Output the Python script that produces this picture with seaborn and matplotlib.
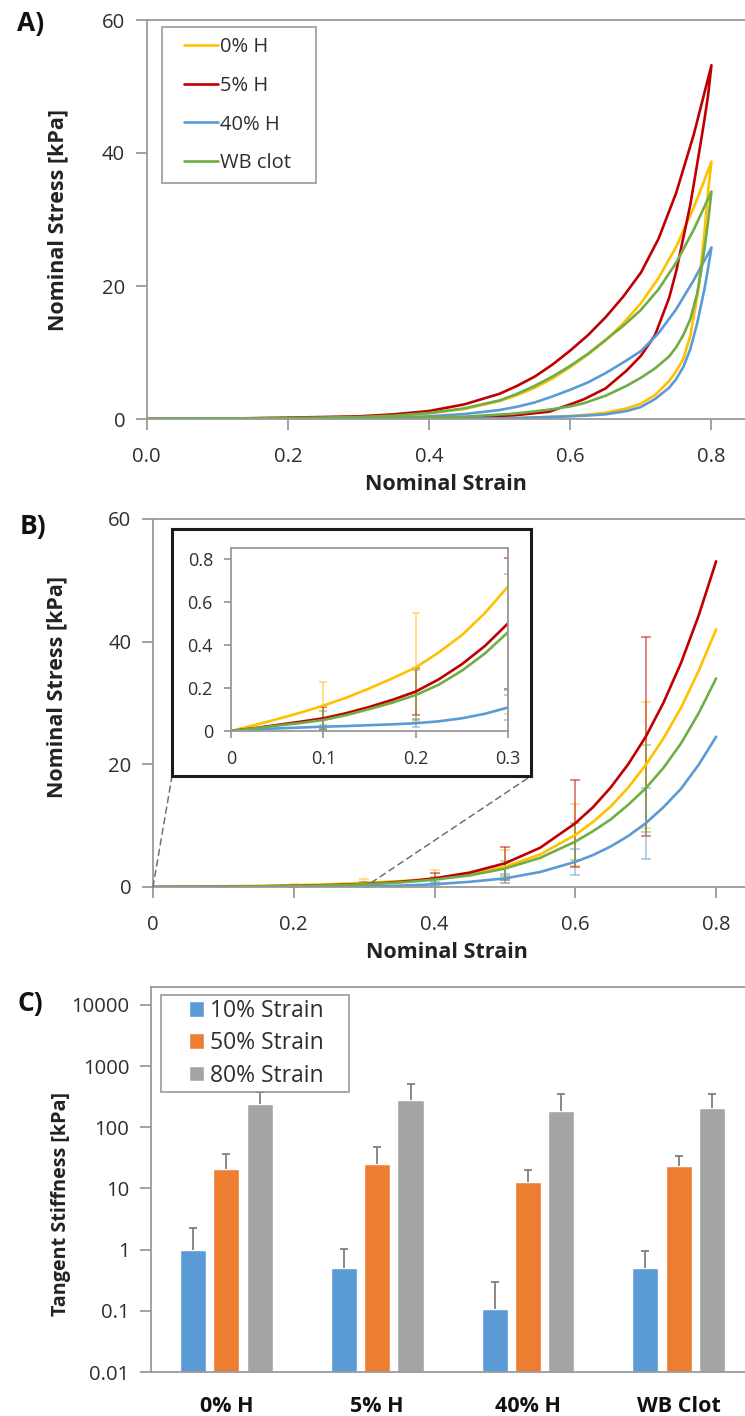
import numpy as np
import pandas as pd
import matplotlib
matplotlib.use("Agg")
import matplotlib.pyplot as plt
import seaborn as sns
from matplotlib.legend_handler import HandlerLine2D, HandlerPatch
from matplotlib.patches import ConnectionPatch

# ------------------------------------------------------------------ data
series_names = ["0% H", "5% H", "40% H", "WB clot"]
series_colors = ["#FFC000", "#C00000", "#5B9BD5", "#70AD47"]

# Panel A : representative loading / unloading loops
a_load_strain = [0, 0.1, 0.2, 0.3, 0.35, 0.4, 0.45, 0.5, 0.525, 0.55, 0.575, 0.6, 0.625,
                 0.65, 0.675, 0.7, 0.725, 0.75, 0.775, 0.8]
a_load_0H  = [0, 0.04, 0.15, 0.3, 0.45, 0.85, 1.5, 2.7, 3.6, 4.7, 6.1, 7.8, 9.7,
              11.8, 14.4, 17.4, 21.2, 25.9, 31.8, 38.7]
a_load_5H  = [0, 0.05, 0.2, 0.4, 0.7, 1.2, 2.2, 3.8, 5.0, 6.4, 8.2, 10.3, 12.6,
              15.3, 18.4, 22.0, 27.1, 34.0, 42.8, 53.2]
a_load_40H = [0, 0.02, 0.05, 0.1, 0.18, 0.4, 0.75, 1.35, 1.85, 2.5, 3.4, 4.4, 5.5,
              6.9, 8.5, 10.2, 12.9, 16.5, 20.9, 25.8]
a_load_WB  = [0, 0.04, 0.15, 0.3, 0.5, 0.9, 1.6, 2.8, 3.8, 5.0, 6.4, 8.0, 9.8,
              11.9, 14.0, 16.4, 19.5, 23.5, 28.5, 34.2]

a_unload_strain = [0.8, 0.795, 0.79, 0.785, 0.78, 0.77, 0.76, 0.75, 0.74, 0.72, 0.70, 0.68, 0.65,
                   0.62, 0.60, 0.57, 0.52, 0.45, 0.35, 0.2, 0.0]
a_unload_0H  = [38.7, 34.0, 28.0, 23.0, 18.5, 12.5, 9.0, 7.2, 5.7, 3.6, 2.3, 1.6, 0.95,
                0.6, 0.45, 0.3, 0.15, 0.07, 0.03, 0.01, 0.0]
a_unload_5H  = [53.2, 48.5, 45.0, 41.7, 38.5, 32.2, 27.2, 22.2, 18.2, 12.6, 9.5, 7.3, 4.6,
                3.0, 2.2, 1.1, 0.55, 0.25, 0.1, 0.03, 0.0]
a_unload_40H = [25.8, 22.5, 19.5, 17.0, 14.5, 10.5, 7.8, 6.0, 4.7, 3.0, 1.8, 1.2, 0.7,
                0.5, 0.4, 0.3, 0.12, 0.06, 0.03, 0.01, 0.0]
a_unload_WB  = [34.2, 29.5, 25.5, 22.0, 19.0, 15.0, 12.6, 10.8, 9.4, 7.6, 6.2, 5.0, 3.5,
                2.4, 1.9, 1.4, 0.8, 0.35, 0.12, 0.04, 0.0]

# Panel B : mean loading curves with SD error bars
b_strain = [0, 0.025, 0.05, 0.075, 0.1, 0.125, 0.15, 0.175, 0.2, 0.225, 0.25, 0.275, 0.3,
            0.325, 0.35, 0.375, 0.4, 0.45, 0.5, 0.55, 0.6, 0.625, 0.65, 0.675, 0.7,
            0.725, 0.75, 0.775, 0.8]
b_mean_0H  = [0, 0.027, 0.055, 0.085, 0.118, 0.155, 0.198, 0.245, 0.295, 0.365, 0.445, 0.548, 0.671,
              0.8, 0.95, 1.13, 1.35, 2.1, 3.3, 5.3, 8.5, 10.6, 13.1, 16.2, 19.9,
              24.2, 29.2, 35.2, 42.0]
b_mean_5H  = [0, 0.013, 0.028, 0.043, 0.059, 0.083, 0.112, 0.145, 0.183, 0.24, 0.31, 0.395, 0.50,
              0.65, 0.84, 1.09, 1.41, 2.35, 3.86, 6.4, 10.4, 13.0, 16.2, 20.0, 24.5,
              30.0, 36.5, 44.2, 53.1]
b_mean_40H = [0, 0.007, 0.012, 0.016, 0.020, 0.023, 0.027, 0.031, 0.036, 0.045, 0.059, 0.080, 0.109,
              0.155, 0.22, 0.32, 0.45, 0.85, 1.4, 2.45, 4.1, 5.2, 6.6, 8.3, 10.4,
              13.0, 16.0, 19.9, 24.5]
b_mean_WB  = [0, 0.012, 0.025, 0.037, 0.051, 0.074, 0.102, 0.132, 0.167, 0.215, 0.28, 0.36, 0.459,
              0.58, 0.74, 0.95, 1.2, 1.9, 3.0, 4.75, 7.4, 9.1, 11.0, 13.4, 16.1,
              19.4, 23.4, 28.3, 34.0]

b_err_strain = [0.1, 0.2, 0.3, 0.4, 0.5, 0.6, 0.7]
b_sd_0H  = [0.108, 0.252, 0.59, 1.47, 2.7, 5.0, 10.2]
b_sd_5H  = [0.054, 0.11, 0.305, 0.9, 2.7, 7.1, 16.2]
b_sd_40H = [0.01, 0.019, 0.058, 0.3, 0.7, 2.1, 5.8]
b_sd_WB  = [0.042, 0.116, 0.27, 0.5, 1.2, 3.0, 7.1]

# Panel C : tangent stiffness
c_groups = ["0% H", "5% H", "40% H", "WB Clot"]
c_levels = ["10% Strain", "50% Strain", "80% Strain"]
c_colors = ["#5B9BD5", "#ED7D31", "#A5A5A5"]
c_mean_10 = [0.97, 0.51, 0.106, 0.51]
c_mean_50 = [21.0, 25.0, 12.9, 23.2]
c_mean_80 = [242, 281, 188, 208]
c_err_10 = [1.28, 0.51, 0.19, 0.43]
c_err_50 = [16.0, 22.0, 6.8, 10.6]
c_err_80 = [143, 238, 168, 148]

# ------------------------------------------------------------------ style
sns.set_theme(style="white")
plt.rcParams["font.family"] = ["Open Sans", "DejaVu Sans"]
GRAY = "#9a9a9a"
TXT = "#2e2e2e"
TICK_FS = 14.6

W, H = 745, 1416
fig = plt.figure(figsize=(W / 100, H / 100), dpi=100)


def add_ax(l, t, r, b, **kw):
    return fig.add_axes([l / W, 1 - b / H, (r - l) / W, (b - t) / H], **kw)


def style_ax(ax, size=TICK_FS, xpad=12.5, ypad=7.5, length=8):
    for s in ax.spines.values():
        s.set_color(GRAY)
        s.set_linewidth(1.3)
    ax.tick_params(axis="both", which="both", direction="out", length=length, width=1.3,
                   color=GRAY, labelsize=size, labelcolor=TXT, bottom=True, left=True)
    ax.tick_params(axis="x", pad=xpad)
    ax.tick_params(axis="y", pad=ypad)


def label_at(ax, which, text, px, py, size=15.5):
    if which == "x":
        ax.set_xlabel(text, fontsize=size, fontweight="bold", color="#222222")
        ax.xaxis.set_label_coords(px / W, 1 - py / H, transform=fig.transFigure)
        ax.xaxis.label.set_verticalalignment("center")
    else:
        ax.set_ylabel(text, fontsize=size, fontweight="bold", color="#222222")
        ax.yaxis.set_label_coords(px / W, 1 - py / H, transform=fig.transFigure)
        ax.yaxis.label.set_verticalalignment("center")


def panel_letter(text, px, py):
    fig.text(px / W, 1 - py / H, text, ha="center", va="center", fontsize=19,
             fontweight="bold", color="#111111")


palette = dict(zip(series_names, series_colors))

# ------------------------------------------------------------------ Panel A
a_load = [a_load_0H, a_load_5H, a_load_40H, a_load_WB]
a_unload = [a_unload_0H, a_unload_5H, a_unload_40H, a_unload_WB]
rows = []
for name, ld, ul in zip(series_names, a_load, a_unload):
    for s, v in zip(a_load_strain, ld):
        rows.append((name, s, v))
    for s, v in zip(a_unload_strain, ul):
        rows.append((name, s, v))
dfA = pd.DataFrame(rows, columns=["series", "strain", "stress"])

axA = add_ax(146.7, 20, 745, 419)
sns.lineplot(data=dfA, x="strain", y="stress", hue="series", hue_order=series_names,
             palette=palette, sort=False, estimator=None, lw=1.9, ax=axA)
axA.set_xlim(0, 0.8475)
axA.set_ylim(0, 60)
axA.set_xticks([0, 0.2, 0.4, 0.6, 0.8])
axA.set_xticklabels(["0.0", "0.2", "0.4", "0.6", "0.8"])
axA.set_yticks([0, 20, 40, 60])
style_ax(axA)
axA.spines["right"].set_visible(False)
label_at(axA, "x", "Nominal Strain", 446, 485)
label_at(axA, "y", "Nominal Stress [kPa]", 58, 220)

hA, lA = axA.get_legend_handles_labels()
legA = axA.legend(hA, lA, loc="upper left", mode="expand",
                  bbox_to_anchor=(162 / W, 1 - 182 / H, 154 / W, 155 / H),
                  bbox_transform=fig.transFigure, borderaxespad=0, frameon=True,
                  fancybox=False, edgecolor="#8a8a8a", fontsize=14.5, handlelength=2.3,
                  handletextpad=0.1, borderpad=0.5, labelspacing=0.93,
                  handler_map={h: HandlerLine2D(xpad=0.6) for h in hA})
legA.get_frame().set_linewidth(1.3)
for t in legA.get_texts():
    t.set_color(TXT)
panel_letter("A)", 31, 24)

# ------------------------------------------------------------------ Panel B
b_means = [b_mean_0H, b_mean_5H, b_mean_40H, b_mean_WB]
b_sds = [b_sd_0H, b_sd_5H, b_sd_40H, b_sd_WB]
rows = []
for name, m in zip(series_names, b_means):
    for s, v in zip(b_strain, m):
        rows.append((name, s, v))
dfB = pd.DataFrame(rows, columns=["series", "strain", "stress"])


def draw_b(ax, lw, cap, elw):
    for name, m, sd, col in zip(series_names, b_means, b_sds, series_colors):
        lookup = dict(zip(b_strain, m))
        ys = [lookup[s] for s in b_err_strain]
        ax.errorbar(b_err_strain, ys, yerr=sd, fmt="none", ecolor=col, alpha=0.6,
                    elinewidth=elw, capsize=cap, capthick=elw, zorder=1)
    sns.lineplot(data=dfB, x="strain", y="stress", hue="series", hue_order=series_names,
                 palette=palette, estimator=None, lw=lw, legend=False, ax=ax, zorder=2)


axB = add_ax(153, 519, 745, 887)
draw_b(axB, 1.9, 3.5, 1.1)
axB.set_xlim(0, 0.841)
axB.set_ylim(0, 60)
axB.set_xticks([0, 0.2, 0.4, 0.6, 0.8])
axB.set_xticklabels(["0", "0.2", "0.4", "0.6", "0.8"])
axB.set_yticks([0, 20, 40, 60])
style_ax(axB)
axB.spines["right"].set_visible(False)
label_at(axB, "x", "Nominal Strain", 447, 952)
label_at(axB, "y", "Nominal Stress [kPa]", 57, 687)
panel_letter("B)", 33, 526)

# inset frame
box = add_ax(172, 529, 531, 776)
box.set_xticks([])
box.set_yticks([])
box.set_facecolor("white")
for s in box.spines.values():
    s.set_color("#1a1a1a")
    s.set_linewidth(2.2)
box.set_zorder(3)

axI = add_ax(231, 548, 508, 731)
axI.set_zorder(4)
draw_b(axI, 1.9, 3, 1.1)
axI.set_xlim(0, 0.3)
axI.set_ylim(0, 0.85)
axI.set_xticks([0, 0.1, 0.2, 0.3])
axI.set_xticklabels(["0", "0.1", "0.2", "0.3"])
axI.set_yticks([0, 0.2, 0.4, 0.6, 0.8])
axI.set_yticklabels(["0", "0.2", "0.4", "0.6", "0.8"])
style_ax(axI, size=13, xpad=9, ypad=8, length=5)
axI.set_xlabel("")
axI.set_ylabel("")

for xyA, xyB in [((0, 0), (0, 0)), ((0.31, 0.7), (1, 0))]:
    con = ConnectionPatch(xyA=xyA, coordsA=axB.transData, xyB=xyB, coordsB=box.transAxes,
                          linestyle=(0, (4, 3)), color="#707070", lw=1.1)
    fig.add_artist(con)

# ------------------------------------------------------------------ Panel C
c_means = [c_mean_10, c_mean_50, c_mean_80]
c_errs = [c_err_10, c_err_50, c_err_80]
rows = []
for lev, m in zip(c_levels, c_means):
    for g, v in zip(c_groups, m):
        rows.append((g, lev, v))
dfC = pd.DataFrame(rows, columns=["group", "strain", "stiffness"])

axC = add_ax(151, 987, 745, 1372)
axC.set_yscale("log")
sns.barplot(data=dfC, x="group", y="stiffness", hue="strain", order=c_groups,
            hue_order=c_levels, palette=c_colors, saturation=1, width=0.664, gap=0.22,
            errorbar=None, ax=axC)
for cont, err in zip(axC.containers, c_errs):
    xs = [p.get_x() + p.get_width() / 2 for p in cont.patches]
    ys = [p.get_height() for p in cont.patches]
    _, caps, _ = axC.errorbar(xs, ys, yerr=[np.zeros(len(err)), err], fmt="none",
                              ecolor="#7f7f7f", elinewidth=1.3, capsize=3, capthick=1.3,
                              zorder=3)
    for c in caps:
        if np.allclose(c.get_ydata(), ys):
            c.set_visible(False)

axC.set_ylim(0.01, 10 ** 4.294)
axC.set_xlim(-0.5, 3.44)
axC.set_yticks([0.01, 0.1, 1, 10, 100, 1000, 10000])
axC.set_yticklabels(["0.01", "0.1", "1", "10", "100", "1000", "10000"])
axC.yaxis.set_minor_locator(matplotlib.ticker.NullLocator())
style_ax(axC)
axC.spines["right"].set_visible(False)
axC.tick_params(axis="x", length=0, pad=17, labelsize=15.5, labelcolor="#111111")
for t in axC.get_xticklabels():
    t.set_fontweight("bold")
axC.set_xlabel("")
label_at(axC, "y", "Tangent Stiffness [kPa]", 61, 1204, size=14.2)

hC, lC = axC.get_legend_handles_labels()
legC = axC.legend(hC, lC, loc="upper left", mode="expand",
                  bbox_to_anchor=(160.7 / W, 1 - 1085 / H, 188.3 / W, 90 / H),
                  bbox_transform=fig.transFigure, borderaxespad=0, frameon=True,
                  fancybox=False, edgecolor="#8a8a8a", fontsize=16.5, handlelength=1.72,
                  handleheight=0.68, handletextpad=0.27, borderpad=0.18, labelspacing=0.36,
                  handler_map={h: HandlerPatch(xpad=1.04) for h in hC})
legC.get_frame().set_linewidth(1.3)
for t in legC.get_texts():
    t.set_color(TXT)
panel_letter("C)", 30, 1003)

fig.savefig("out.png", dpi=100)
